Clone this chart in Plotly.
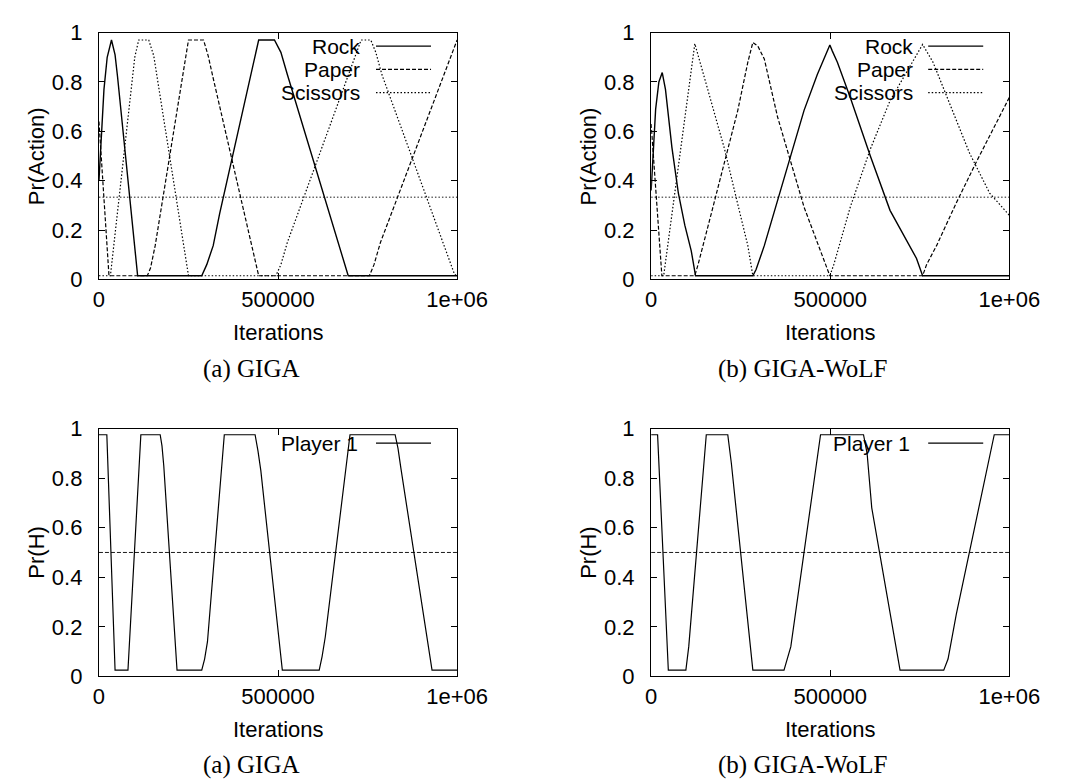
import plotly.graph_objects as go

# ---------------- data ----------------
# Top-left: GIGA, Rock-Paper-Scissors
giga_rock_x = [0, 14000, 23000, 35000, 45000, 52000, 108000, 287000, 301000, 319000, 337000,
               446000, 490000, 508000, 526000, 696000, 1000000]
giga_rock_y = [0.40, 0.77, 0.90, 0.97, 0.91, 0.82, 0.015, 0.015, 0.06, 0.137, 0.267,
               0.97, 0.97, 0.92, 0.83, 0.015, 0.015]
giga_paper_x = [0, 28000, 135000, 144000, 157000, 250000, 292000, 305000, 319000, 446000,
                755000, 768000, 786000, 1000000]
giga_paper_y = [0.64, 0.015, 0.015, 0.046, 0.137, 0.97, 0.97, 0.906, 0.815, 0.015,
                0.015, 0.06, 0.15, 0.97]
giga_sci_x = [0, 32000, 100000, 111000, 139000, 153000, 250000, 494000, 508000, 526000,
              732000, 759000, 773000, 790000, 993000, 1000000]
giga_sci_y = [0.015, 0.015, 0.90, 0.97, 0.97, 0.906, 0.015, 0.015, 0.06, 0.15,
              0.97, 0.97, 0.92, 0.83, 0.02, 0.015]

# Top-right: GIGA-WoLF, Rock-Paper-Scissors
wolf_rock_x = [0, 12600, 21600, 31000, 40000, 58000, 76000, 94000, 112000, 120000, 124000,
               284000, 293000, 316000, 353000, 390000, 427000, 464000, 492000, 499000, 506000,
               520000, 556000, 612000, 667000, 723000, 741000, 758000, 1000000]
wolf_rock_y = [0.36, 0.69, 0.80, 0.838, 0.77, 0.535, 0.35, 0.22, 0.116, 0.058, 0.015,
               0.015, 0.04, 0.137, 0.32, 0.50, 0.685, 0.83, 0.93, 0.95, 0.925,
               0.88, 0.737, 0.50, 0.28, 0.137, 0.085, 0.015, 0.015]
wolf_paper_x = [0, 30000, 122000, 131000, 168000, 205000, 242000, 270000, 284000, 298000,
                316000, 353000, 390000, 427000, 464000, 487000, 499000, 758000, 769000,
                797000, 852000, 908000, 963000, 1000000]
wolf_paper_y = [0.63, 0.015, 0.015, 0.06, 0.267, 0.476, 0.685, 0.88, 0.96, 0.945,
                0.893, 0.658, 0.476, 0.293, 0.15, 0.059, 0.015, 0.015, 0.06,
                0.137, 0.31, 0.476, 0.632, 0.737]
wolf_sci_x = [0, 35000, 122000, 168000, 205000, 242000, 270000, 284000, 499000, 510000,
              556000, 612000, 667000, 723000, 758000, 787000, 834000, 889000, 945000, 1000000]
wolf_sci_y = [0.015, 0.015, 0.955, 0.724, 0.528, 0.304, 0.137, 0.015, 0.015, 0.06,
              0.293, 0.528, 0.724, 0.864, 0.952, 0.88, 0.708, 0.512, 0.35, 0.26]

# Bottom-left: GIGA, Matching Pennies, Player 1 Pr(H)
giga_mp_x = [0, 22000, 45000, 81000, 117000, 171000, 176000, 181000, 218000, 287000, 295000,
             303000, 350000, 436000, 444000, 452000, 512000, 615000, 623000, 632000, 701000,
             827000, 835000, 843000, 930000, 1000000]
giga_mp_y = [0.975, 0.975, 0.025, 0.025, 0.975, 0.975, 0.93, 0.85, 0.025, 0.025, 0.07,
             0.14, 0.975, 0.975, 0.91, 0.83, 0.025, 0.025, 0.08, 0.16, 0.975,
             0.975, 0.92, 0.84, 0.025, 0.025]

# Bottom-right: GIGA-WoLF, Matching Pennies
wolf_mp_x = [0, 18000, 48000, 97000, 105000, 154000, 214000, 224000, 284000, 371000, 390000,
             473000, 593000, 603000, 616000, 695000, 817000, 829000, 852000, 958000, 1000000]
wolf_mp_y = [0.975, 0.975, 0.025, 0.025, 0.12, 0.975, 0.975, 0.86, 0.025, 0.025, 0.12,
             0.975, 0.975, 0.90, 0.68, 0.025, 0.025, 0.07, 0.25, 0.975, 0.975]

# equilibrium reference lines
eq_x = [0, 1000000]
rps_eq_y = [0.3333, 0.3333]
mp_eq_y = [0.5, 0.5]

x_tickvals = [0, 500000, 1000000]
x_ticktext = ["0", "500000", "1e+06"]
y_tickvals = [0, 0.2, 0.4, 0.6, 0.8, 1]
y_ticktext = ["0", "0.2", "0.4", "0.6", "0.8", "1"]

rps_names = ["Rock", "Paper", "Scissors"]
mp_names = ["Player 1"]
captions = ["(a) GIGA", "(b) GIGA-WoLF"]

# ---------------- layout ----------------
W, H = 1068, 784
SANS = "Liberation Sans, Arial, Helvetica, sans-serif"
SERIF = "Liberation Serif, Times New Roman, serif"
FS = 22
LEG_FS = 21

def px(x):
    return x / W

def py(y):
    return 1 - y / H

# panel pixel boxes: (left, right, top, bottom)
panels = {
    1: (88, 459, 13, 268),
    2: (660, 1031, 13, 268),
    3: (88, 459, 422, 678),
    4: (660, 1031, 422, 678),
}

styles = {
    "solid": dict(color="black", width=1.4, dash="solid"),
    "dash": dict(color="black", width=1.2, dash="4px,2px"),
    "dot": dict(color="black", width=1.2, dash="1.5px,2px"),
}

fig = go.Figure()

def add_line(idx, xs, ys, style, width=None):
    ax = "" if idx == 1 else str(idx)
    line = dict(styles[style])
    if width is not None:
        line["width"] = width
    fig.add_trace(go.Scatter(x=xs, y=ys, mode="lines", line=line,
                             xaxis="x" + ax, yaxis="y" + ax, showlegend=False,
                             hoverinfo="skip"))

# equilibrium lines first
add_line(1, eq_x, rps_eq_y, "dot", width=0.9)
add_line(2, eq_x, rps_eq_y, "dot", width=0.9)
add_line(3, eq_x, mp_eq_y, "dash", width=0.9)
add_line(4, eq_x, mp_eq_y, "dash", width=0.9)

add_line(1, giga_rock_x, giga_rock_y, "solid")
add_line(1, giga_paper_x, giga_paper_y, "dash")
add_line(1, giga_sci_x, giga_sci_y, "dot")
add_line(2, wolf_rock_x, wolf_rock_y, "solid")
add_line(2, wolf_paper_x, wolf_paper_y, "dash")
add_line(2, wolf_sci_x, wolf_sci_y, "dot")
add_line(3, giga_mp_x, giga_mp_y, "solid", width=1.2)
add_line(4, wolf_mp_x, wolf_mp_y, "solid", width=1.2)

axis_common = dict(showgrid=False, zeroline=False, showline=True, linecolor="black",
                   linewidth=1.3, mirror="all", ticks="inside", ticklen=6,
                   tickwidth=1, tickcolor="black",
                   tickfont=dict(family=SANS, size=FS, color="black"))

layout = dict(width=W, height=H, margin=dict(l=0, r=0, t=0, b=0),
              plot_bgcolor="white", paper_bgcolor="white", showlegend=False)

for idx, (l, r, t, b) in panels.items():
    ax = "" if idx == 1 else str(idx)
    layout["xaxis" + ax] = dict(axis_common, domain=[px(l), px(r)], range=[0, 1000000],
                                tickvals=x_tickvals, ticktext=x_ticktext,
                                anchor="y" + ax)
    layout["yaxis" + ax] = dict(axis_common, domain=[py(b), py(t)], range=[0, 1],
                                tickvals=y_tickvals, ticktext=y_ticktext,
                                anchor="x" + ax, ticklabelstandoff=11)

fig.update_layout(**layout)

annotations = []
shapes = []

def text(x, y, s, font=SANS, size=FS, angle=0, xanchor="center"):
    annotations.append(dict(x=px(x), y=py(y), xref="paper", yref="paper", text=s,
                            showarrow=False, xanchor=xanchor, yanchor="middle",
                            textangle=angle, font=dict(family=font, size=size, color="black")))

for idx, (l, r, t, b) in panels.items():
    cx = (l + r) / 2
    text(cx, b + 55, "Iterations")
    text(l - 65, (t + b) / 2, "Pr(Action)" if idx in (1, 2) else "Pr(H)", angle=-90)
    text(l + 157, b + 92, captions[0] if idx in (1, 3) else captions[1], font=SERIF, size=25)
    # legend (text right-aligned, line sample to the right, as in gnuplot)
    if idx in (1, 2):
        rows = [(rps_names[0], "solid", t + 14), (rps_names[1], "dash", t + 38),
                (rps_names[2], "dot", t + 62)]
        tx = r - 98
    else:
        rows = [(mp_names[0], "solid", t + 15)]
        tx = r - 101
    for name, st, yy in rows:
        text(tx, yy, name, size=LEG_FS, xanchor="right")
        ln = dict(styles[st])
        ln["width"] = 1.2
        shapes.append(dict(type="line", xref="paper", yref="paper",
                           x0=px(r - 84), x1=px(r - 27), y0=py(yy), y1=py(yy), line=ln))

fig.update_layout(annotations=annotations, shapes=shapes)
fig.write_html("out.html")
